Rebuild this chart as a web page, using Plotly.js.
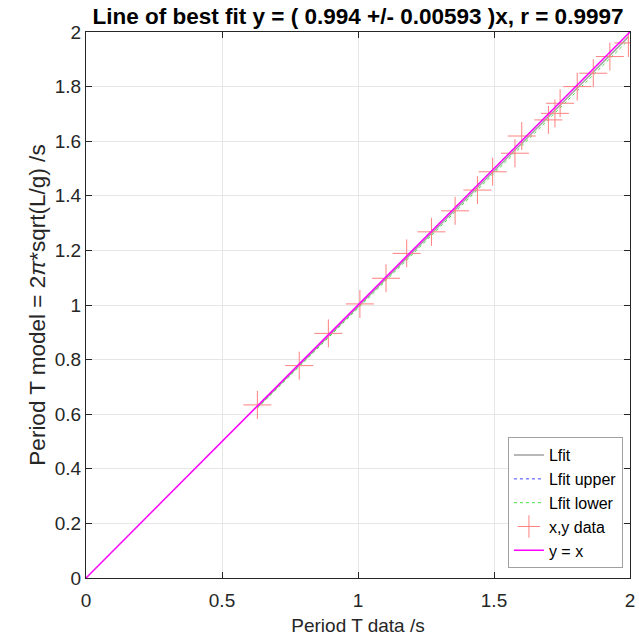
<!DOCTYPE html>
<html>
<head>
<meta charset="utf-8">
<script src="https://cdn.plot.ly/plotly-3.0.1.min.js"></script>
<style>html,body{margin:0;padding:0;background:#fff;}#chart{width:639px;height:637px;}</style>
</head>
<body>
<div id="chart"></div>
<script>
// Measured periods (x) and model periods (y)
const tData = [0.630, 0.784, 0.891, 1.007, 1.103, 1.179, 1.270, 1.357, 1.439, 1.495, 1.577, 1.602, 1.700, 1.724, 1.743, 1.806, 1.865, 1.926, 1.994];
const tModel = [0.634, 0.778, 0.896, 1.004, 1.098, 1.189, 1.268, 1.345, 1.421, 1.488, 1.556, 1.619, 1.678, 1.702, 1.739, 1.800, 1.849, 1.910, 1.960];
const slope = 0.994;
const slopeErr = 0.00593;
const rValue = 0.9997;
const xTicks = [0, 0.5, 1, 1.5, 2];
const yTicks = [0, 0.2, 0.4, 0.6, 0.8, 1, 1.2, 1.4, 1.6, 1.8, 2];
const identityX = [0, 2];

const xmin = Math.min(...tData), xmax = Math.max(...tData);
const fitX = [xmin, xmax];

const font = "Liberation Sans, Arial, Helvetica, sans-serif";

const traces = [
  {x: fitX, y: fitX.map(v => slope * v), mode: 'lines', name: 'Lfit',
   line: {color: '#a0a0a0', width: 1.5}},
  {x: fitX, y: fitX.map(v => (slope + slopeErr) * v), mode: 'lines', name: 'Lfit upper',
   line: {color: '#4040ff', width: 1, dash: 'dot'}},
  {x: fitX, y: fitX.map(v => (slope - slopeErr) * v), mode: 'lines', name: 'Lfit lower',
   line: {color: '#40e040', width: 1, dash: 'dot'}},
  {x: tData, y: tModel, mode: 'markers', name: 'x,y data',
   marker: {symbol: 'cross-thin-open', size: 20, color: '#ff8080', line: {color: '#ff8080', width: 1}}},
  {x: identityX, y: identityX, mode: 'lines', name: 'y = x',
   line: {color: '#ff00ff', width: 1.5}}
];

const axisCommon = {
  showgrid: true, gridcolor: '#e6e6e6', gridwidth: 1,
  zeroline: false, showline: true, linecolor: '#262626', linewidth: 1, mirror: 'ticks',
  ticks: 'inside', ticklen: 6, tickcolor: '#262626',
  tickfont: {family: font, size: 19, color: '#262626'}
};

const layout = {
  width: 639, height: 637,
  margin: {l: 86, r: 9, t: 32, b: 59},
  paper_bgcolor: '#fff', plot_bgcolor: '#fff',
  title: {text: '<b>Line of best fit y = ( ' + slope + ' +/- ' + slopeErr + ' )x, r = ' + rValue + '</b>',
          font: {family: font, size: 22.5, color: '#000'}, xref: 'paper', x: 0.5, xanchor: 'center', y: 0.975, yanchor: 'middle'},
  xaxis: Object.assign({}, axisCommon, {range: [0, 2], tickvals: xTicks, ticktext: xTicks.map(String),
    ticklabelstandoff: 5,
    title: {text: 'Period T data /s', font: {family: font, size: 19, color: '#262626'}, standoff: 8}}),
  yaxis: Object.assign({}, axisCommon, {range: [0, 2], tickvals: yTicks, ticktext: yTicks.map(String),
    title: {text: 'Period T model = 2<i>π</i>*sqrt(L/g) /s', font: {family: font, size: 22.5, color: '#262626'}, standoff: 2}}),
  showlegend: true,
  legend: {x: 0.987, xanchor: 'right', y: 0.018, yanchor: 'bottom',
    bgcolor: '#fff', bordercolor: '#a0a0a0', borderwidth: 1,
    font: {family: font, size: 16, color: '#000'}, tracegroupgap: 0}
};

Plotly.newPlot('chart', traces, layout, {displayModeBar: false, staticPlot: true});
</script>
</body>
</html>
